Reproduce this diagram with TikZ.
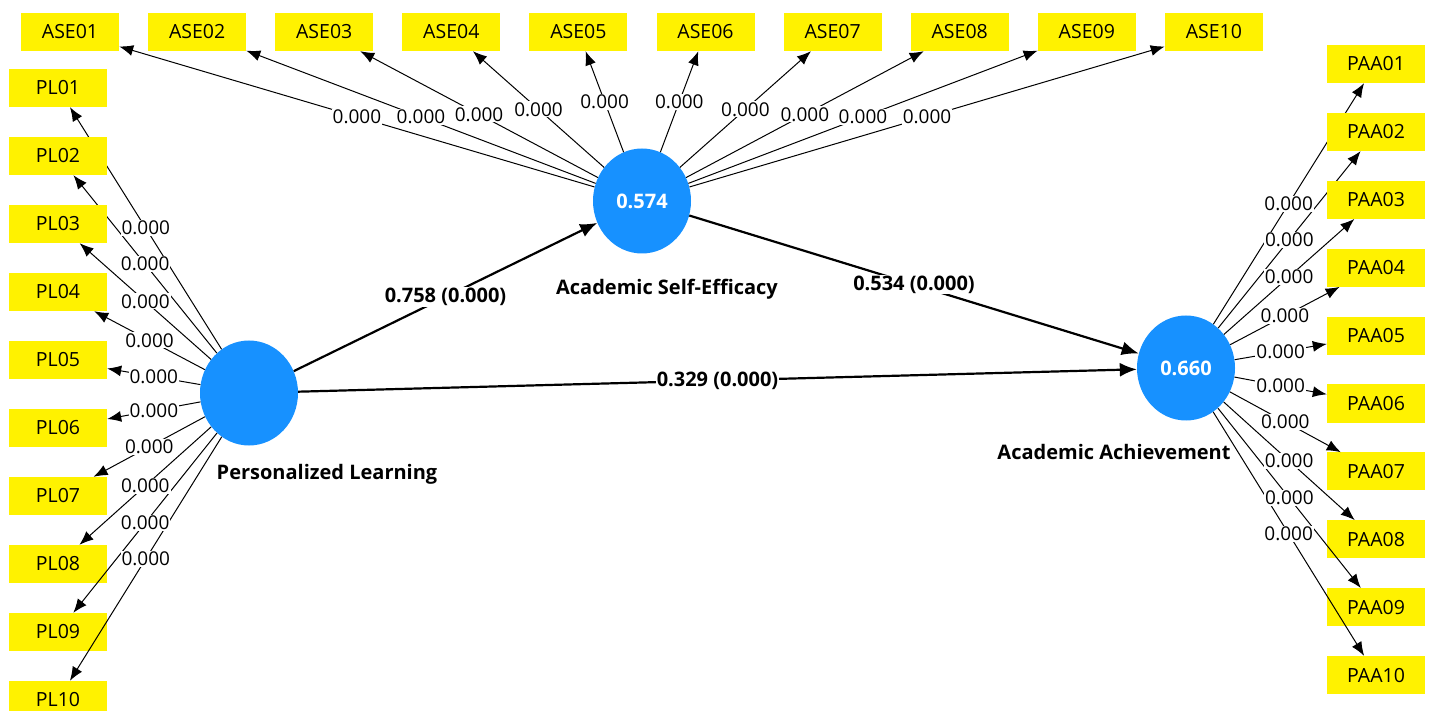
\documentclass[tikz,border=0pt]{standalone}
\usepackage{fontspec}
\setmainfont{Open Sans}
\usetikzlibrary{shapes.geometric,arrows.meta}
\definecolor{lvblue}{RGB}{23,145,255}
\begin{document}
\begin{tikzpicture}[x=1pt,y=-1pt,
  ind/.style={fill=yellow,minimum width=98pt,minimum height=38pt,inner sep=0pt,font=\fontsize{19.5}{22}\selectfont},
  lv/.style={ellipse,fill=lvblue,minimum width=98pt,minimum height=105pt,inner sep=0pt,text=white,font=\bfseries\fontsize{20}{23}\selectfont},
  lvname/.style={font=\bfseries\fontsize{20}{23}\selectfont},
  loading/.style={->,>={Latex[length=14pt,width=11pt]},line width=1pt},
  effect/.style={->,>={Latex[length=17pt,width=14pt]},line width=2.2pt},
  coef/.style={fill=white,inner sep=1pt,font=\fontsize{19}{22}\selectfont},
  pcoef/.style={fill=white,inner sep=1pt,font=\bfseries\fontsize{20}{23}\selectfont}]
\useasboundingbox (0,0) rectangle (1433,711);
% latent variables
\node[lv] (PL) at (249,393) {};
\node[lv] (ASE) at (642,201) {0.574};
\node[lv] (PAA) at (1186,368) {0.660};
\node[lvname] (PLname) at (327,474) {Personalized Learning};
\node[lvname] (ASEname) at (667,289) {Academic Self-Efficacy};
\node[lvname] (PAAname) at (1114,452) {Academic Achievement};
% indicators
\foreach \n [count=\i] in {01,02,03,04,05,06,07,08,09,10}{
  \node[ind] (ASE\n) at ({70+127.1*(\i-1)},32) {ASE\n};
  \node[ind] (PL\n) at (58,{88+68*(\i-1)}) {PL\n};
  \node[ind] (PAA\n) at (1376,{64+67.9*(\i-1)}) {PAA\n};
  \draw[loading] (ASE) -- (ASE\n);
  \draw[loading] (PL) -- (PL\n);
  \draw[loading] (PAA) -- (PAA\n);
}
\foreach \n in {01,02,03,04,05,06,07,08,09,10}{
  \path (ASE) -- node[coef]{0.000} (ASE\n);
  \path (PL) -- node[coef]{0.000} (PL\n);
  \path (PAA) -- node[coef]{0.000} (PAA\n);
}
% structural paths
\draw[effect] (PL) -- node[pcoef]{0.758 (0.000)} (ASE);
\draw[effect] (ASE) -- node[pcoef]{0.534 (0.000)} (PAA);
\draw[effect] (PL) -- node[pcoef]{0.329 (0.000)} (PAA);
\end{tikzpicture}
\end{document}
